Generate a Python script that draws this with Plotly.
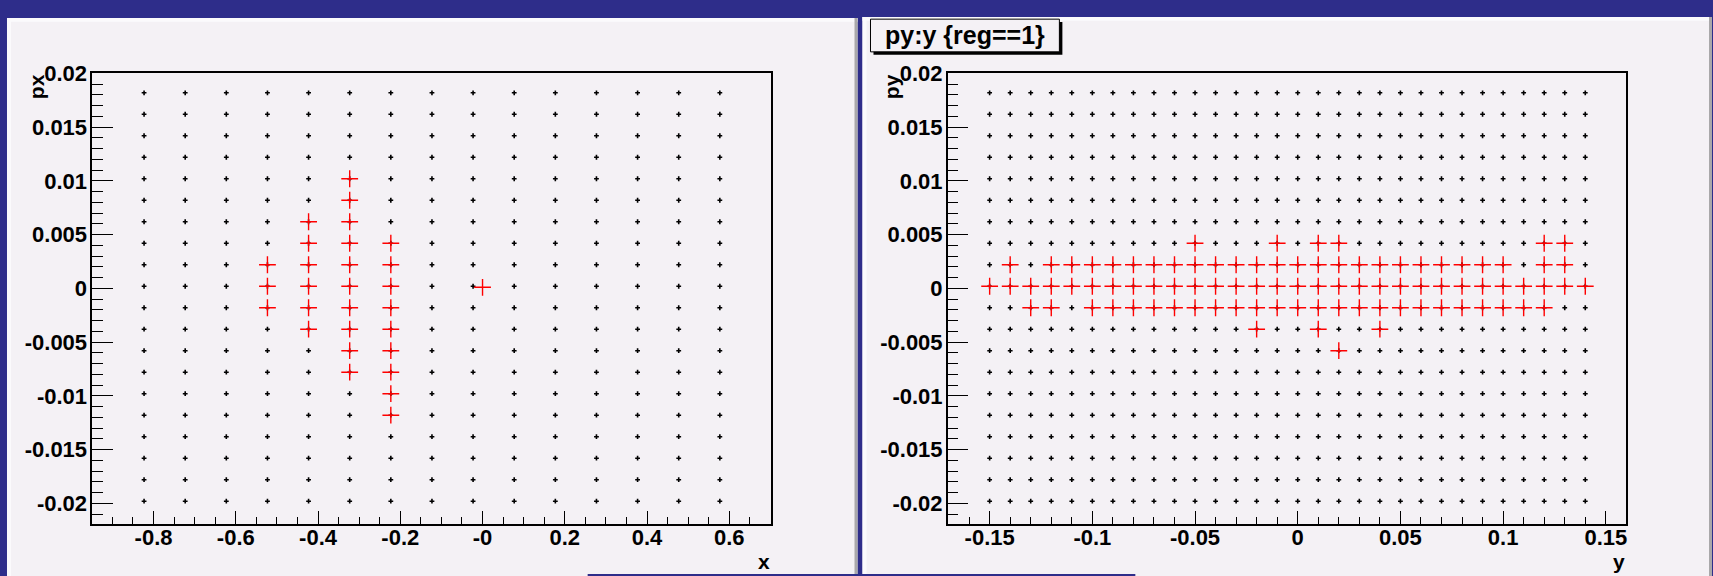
import plotly.graph_objects as go

W, H = 1713, 576

# ---------------- data ----------------
grid_rows = [-0.0198, -0.0178, -0.0158, -0.0138, -0.0118, -0.0098, -0.0078, -0.0058,
             -0.0038, -0.0018, 0.0002, 0.0022, 0.0042, 0.0062, 0.0082, 0.0102,
             0.0122, 0.0142, 0.0162, 0.0182]

left_cols = [-0.823, -0.723, -0.623, -0.523, -0.423, -0.323, -0.223, -0.123,
             -0.023, 0.077, 0.177, 0.277, 0.377, 0.477, 0.577]

right_cols = [-0.15, -0.14, -0.13, -0.12, -0.11, -0.10, -0.09, -0.08, -0.07, -0.06,
              -0.05, -0.04, -0.03, -0.02, -0.01, 0.00, 0.01, 0.02, 0.03, 0.04,
              0.05, 0.06, 0.07, 0.08, 0.09, 0.10, 0.11, 0.12, 0.13, 0.14]

# red (reg==1) points, left pad: px vs x
left_red_x = [-0.523, -0.523, -0.523,
              -0.423, -0.423, -0.423, -0.423, -0.423, -0.423,
              -0.323, -0.323, -0.323, -0.323, -0.323, -0.323, -0.323, -0.323, -0.323, -0.323,
              -0.223, -0.223, -0.223, -0.223, -0.223, -0.223, -0.223, -0.223, -0.223,
              0.0]
left_red_y = [0.0022, 0.0002, -0.0018,
              0.0062, 0.0042, 0.0022, 0.0002, -0.0018, -0.0038,
              0.0102, 0.0082, 0.0062, 0.0042, 0.0022, 0.0002, -0.0018, -0.0038, -0.0058, -0.0078,
              0.0042, 0.0022, 0.0002, -0.0018, -0.0038, -0.0058, -0.0078, -0.0098, -0.0118,
              0.0001]

# red (reg==1) points, right pad: py vs y, listed row by row
right_red_rows = [0.0042, 0.0022, 0.0002, -0.0018, -0.0038, -0.0058]
right_red_row_0042 = [-0.05, -0.01, 0.01, 0.02, 0.12, 0.13]
right_red_row_0022 = [-0.14, -0.12, -0.11, -0.10, -0.09, -0.08, -0.07, -0.06, -0.05, -0.04,
                      -0.03, -0.02, -0.01, 0.00, 0.01, 0.02, 0.03, 0.04, 0.05, 0.06,
                      0.07, 0.08, 0.09, 0.10, 0.12, 0.13]
right_red_row_0002 = [-0.15, -0.14, -0.13, -0.12, -0.11, -0.10, -0.09, -0.08, -0.07, -0.06,
                      -0.05, -0.04, -0.03, -0.02, -0.01, 0.00, 0.01, 0.02, 0.03, 0.04,
                      0.05, 0.06, 0.07, 0.08, 0.09, 0.10, 0.11, 0.12, 0.13, 0.14]
right_red_row_m0018 = [-0.13, -0.12, -0.10, -0.09, -0.08, -0.07, -0.06, -0.05, -0.04, -0.03,
                       -0.02, -0.01, 0.00, 0.01, 0.02, 0.03, 0.04, 0.05, 0.06, 0.07,
                       0.08, 0.09, 0.10, 0.11, 0.12]
right_red_row_m0038 = [-0.02, 0.01, 0.04]
right_red_row_m0058 = [0.02]

left_x_tickvals = [-0.8, -0.6, -0.4, -0.2, 0.0, 0.2, 0.4, 0.6]
left_x_ticktext = ["-0.8", "-0.6", "-0.4", "-0.2", "-0", "0.2", "0.4", "0.6"]
right_x_tickvals = [-0.15, -0.1, -0.05, 0.0, 0.05, 0.1, 0.15]
right_x_ticktext = ["-0.15", "-0.1", "-0.05", "0", "0.05", "0.1", "0.15"]
y_tickvals = [-0.02, -0.015, -0.01, -0.005, 0.0, 0.005, 0.01, 0.015, 0.02]
y_ticktext = ["-0.02", "-0.015", "-0.01", "-0.005", "0", "0.005", "0.01", "0.015", "0.02"]

# ---------------- build ----------------
left_dot_x = [c for c in left_cols for r in grid_rows]
left_dot_y = [r for c in left_cols for r in grid_rows]
right_dot_x = [c for c in right_cols for r in grid_rows]
right_dot_y = [r for c in right_cols for r in grid_rows]

right_red_lists = [right_red_row_0042, right_red_row_0022, right_red_row_0002,
                   right_red_row_m0018, right_red_row_m0038, right_red_row_m0058]
right_red_x = [x for row, xs in zip(right_red_rows, right_red_lists) for x in xs]
right_red_y = [row for row, xs in zip(right_red_rows, right_red_lists) for x in xs]

BLUE = "#2e2d8a"
PAD = "#f4f1f5"
FONT = "Liberation Sans, Arial, Helvetica, sans-serif"


def PX(p):
    return p / W


def PY(p):
    return 1 - p / H


dot_marker = dict(symbol="cross", size=4, color="black", line=dict(width=0))
red_marker = dict(symbol="cross-thin", size=12, color="red", line=dict(color="red", width=1.4))

fig = go.Figure()
fig.add_trace(go.Scatter(x=left_dot_x, y=left_dot_y, mode="markers", marker=dot_marker,
                         xaxis="x", yaxis="y", hoverinfo="skip", showlegend=False))
fig.add_trace(go.Scatter(x=left_red_x, y=left_red_y, mode="markers", marker=red_marker,
                         xaxis="x", yaxis="y", hoverinfo="skip", showlegend=False))
fig.add_trace(go.Scatter(x=right_dot_x, y=right_dot_y, mode="markers", marker=dot_marker,
                         xaxis="x2", yaxis="y2", hoverinfo="skip", showlegend=False))
fig.add_trace(go.Scatter(x=right_red_x, y=right_red_y, mode="markers", marker=red_marker,
                         xaxis="x2", yaxis="y2", hoverinfo="skip", showlegend=False))

tickfont = dict(family=FONT, size=22, color="black", weight="bold")
common = dict(showgrid=False, zeroline=False, showline=True, mirror=True,
              linecolor="black", linewidth=1.5, ticks="inside", tickcolor="black",
              tickwidth=1.3, tickfont=tickfont, fixedrange=True, tickmode="array")

xminor_l = dict(ticks="inside", ticklen=8, tickcolor="black", tickwidth=1.3, tick0=0, dtick=0.05)
xminor_r = dict(ticks="inside", ticklen=8, tickcolor="black", tickwidth=1.3, tick0=0, dtick=0.01)
yminor = dict(ticks="inside", ticklen=11, tickcolor="black", tickwidth=1.3, tick0=0, dtick=0.001)

ydom = [PY(523.3), PY(62.3)]
yrange = [-0.02196, 0.02004]

fig.update_layout(
    width=W, height=H, autosize=False,
    margin=dict(l=0, r=0, t=0, b=0, pad=0),
    paper_bgcolor=BLUE, plot_bgcolor=PAD,
    xaxis=dict(domain=[PX(92.3), PX(771.7)], range=[-0.949, 0.702], anchor="y",
               tickvals=left_x_tickvals, ticktext=left_x_ticktext, ticklen=14,
               ticklabelstandoff=-8, minor=xminor_l, **common),
    yaxis=dict(domain=ydom, range=yrange, anchor="x",
               tickvals=y_tickvals, ticktext=y_ticktext, ticklen=21,
               ticklabelstandoff=-1, minor=yminor, **common),
    xaxis2=dict(domain=[PX(948.3), PX(1627.3)], range=[-0.1704, 0.16], anchor="y2",
                tickvals=right_x_tickvals, ticktext=right_x_ticktext, ticklen=14,
                ticklabelstandoff=-8, minor=xminor_r, **common),
    yaxis2=dict(domain=ydom, range=yrange, anchor="x2",
                tickvals=y_tickvals, ticktext=y_ticktext, ticklen=21,
                ticklabelstandoff=-1, minor=yminor, **common),
)

shapes = []


def rect(x0, y0, x1, y1, color, layer="below", line=None):
    d = dict(type="rect", xref="paper", yref="paper",
             x0=PX(x0), x1=PX(x1), y0=PY(y1), y1=PY(y0),
             fillcolor=color, layer=layer, line=dict(width=0))
    if line:
        d["line"] = line
    shapes.append(d)


# left pad
rect(7, 6, 858, 576, PAD)
rect(7, 6, 858, 10, "#fbfafc")
rect(7, 6, 11, 576, "#fbfafc")
rect(855, 6, 858, 576, "#a9a8aa")
# right pad
rect(863, 5, 1713, 576, PAD)
rect(863, 5, 1713, 9, "#fbfafc")
rect(863, 5, 867, 576, "#fbfafc")
rect(1710, 5, 1713, 576, "#a9a8aa")
# bottom strip
rect(588, 574, 1136, 576, BLUE, layer="above")
# title box with shadow
rect(874, 10.3, 1063, 43.7, "black", layer="above")
rect(871, 7.3, 1060, 40.7, PAD, layer="above", line=dict(color="black", width=1))

fig.update_layout(shapes=shapes)

afont = dict(family=FONT, size=21, color="black", weight="bold")
annotations = [
    dict(text="x", xref="paper", yref="paper", x=PX(771.7), y=PY(561), xanchor="right",
         yanchor="middle", showarrow=False, font=afont, borderpad=0),
    dict(text="y", xref="paper", yref="paper", x=PX(1627.3), y=PY(561), xanchor="right",
         yanchor="middle", showarrow=False, font=afont, borderpad=0),
    dict(text="px", xref="paper", yref="paper", x=PX(36), y=PY(62), xanchor="center",
         yanchor="top", textangle=-90, showarrow=False, font=afont, borderpad=0),
    dict(text="py", xref="paper", yref="paper", x=PX(891.5), y=PY(62), xanchor="center",
         yanchor="top", textangle=-90, showarrow=False, font=afont, borderpad=0),
    dict(text="py:y {reg==1}", xref="paper", yref="paper", x=PX(965.5), y=PY(24),
         xanchor="center", yanchor="middle", showarrow=False,
         font=dict(family=FONT, size=25, color="black", weight="bold"), borderpad=0),
]
fig.update_layout(annotations=annotations)

fig.write_html("out.html")
